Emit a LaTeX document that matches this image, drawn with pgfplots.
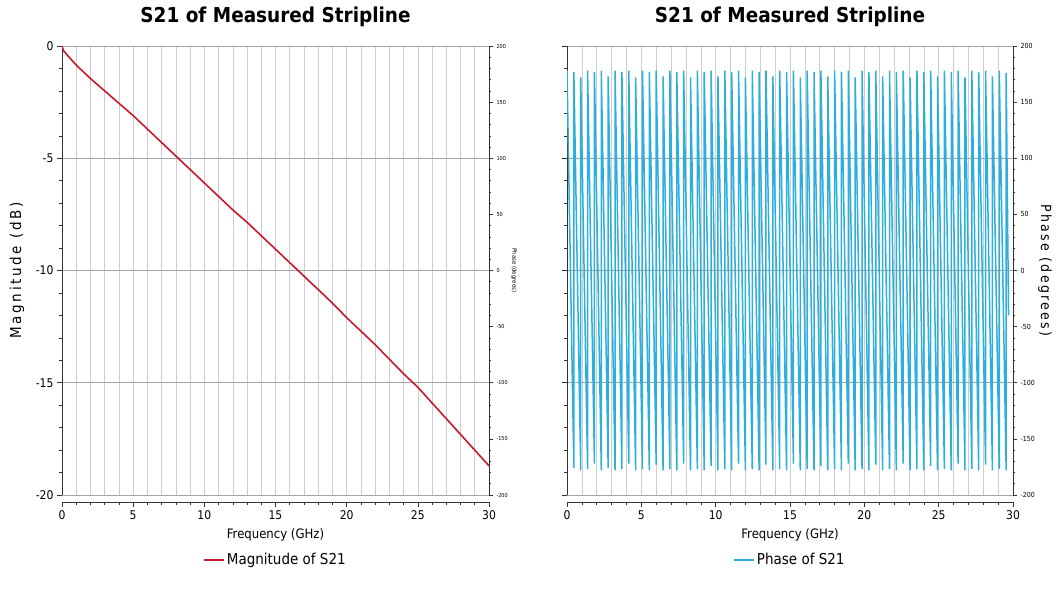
\documentclass[border=0pt]{standalone}
\usepackage{pgfplots}
\pgfplotsset{compat=1.18}
\usepackage{fontspec}
\setmainfont{DejaVu Sans Condensed}
\definecolor{magred}{RGB}{200,25,45}
\definecolor{phcyan}{RGB}{45,175,222}
\definecolor{gridgray}{RGB}{205,205,205}
\definecolor{hgrid}{RGB}{165,165,165}
\definecolor{axgray}{RGB}{50,50,50}
\pgfplotsset{
  base/.style={
    scale only axis, width=#1, height=449pt,
    xmin=0, xmax=30,
    /pgf/number format/assume math mode=true,
    tick align=outside,
    major tick length=5pt, minor tick length=3pt,
    every tick/.style={axgray, line width=0.6pt},
    axis line style={axgray, line width=0.8pt},
    tick label style={font=\fontsize{12}{14}\selectfont},
  },
  freqx/.style={
    axis x line*=bottom, axis x line shift=7pt,
    xtick={0,5,...,30}, minor xtick={1,...,29},
    xmajorgrids, xminorgrids,
    x grid style={gridgray, line width=0.6pt},
    y grid style={hgrid, line width=0.6pt},
    xlabel={Frequency (GHz)},
    xlabel style={font=\fontsize{13}{15}\selectfont, at={(axis description cs:0.5,0)}, anchor=center, yshift=-40pt},
    title style={font=\bfseries\fontsize{20.5}{22}\selectfont, at={(axis description cs:0.5,1)}, anchor=base, yshift=18pt},
  },
  leg/.style={
    legend style={at={(0.5,-0.1448)}, anchor=center, draw=none, fill=none, font=\fontsize{15}{17}\selectfont},
    legend image code/.code={\draw[##1] (0pt,0pt) -- (20pt,0pt);},
  },
}
\begin{document}
\begin{tikzpicture}[x=1pt,y=1pt]
\path[use as bounding box] (0,0) rectangle (1057,-590);

% ---------- Left: magnitude ----------
\begin{axis}[base=427pt, freqx, leg,
  at={(62pt,-495pt)}, anchor=south west,
  ymin=-20, ymax=0, axis y line*=left,
  ytick={0,-5,...,-20}, minor ytick={-1,-2,...,-19},
  ymajorgrids,
  title={S21 of Measured Stripline},
  ylabel={Magnitude (dB)},
  ylabel style={font=\fontsize{15}{17}\selectfont\addfontfeatures{LetterSpace=18}, at={(axis description cs:-0.1054,0.5)}, anchor=center},
]
\addplot[magred, line width=1.6pt] coordinates {
(0,0) (0.1,-0.2) (0.5,-0.5) (1,-0.85) (2,-1.45) (3,-2.0) (4,-2.55) (5,-3.1)
(6,-3.7) (7,-4.3) (8,-4.9) (9,-5.5) (10,-6.1) (11,-6.7) (12,-7.3) (13,-7.85)
(14,-8.45) (15,-9.05) (16,-9.65) (17,-10.25) (18,-10.85) (19,-11.45) (20,-12.1)
(21,-12.7) (22,-13.3) (23,-13.95) (24,-14.6) (25,-15.2) (26,-15.9) (27,-16.6)
(28,-17.3) (29,-18.0) (30,-18.7)
};
\addlegendentry{Magnitude of S21}
\end{axis}
\begin{axis}[base=427pt,
  at={(62pt,-495pt)}, anchor=south west,
  ymin=-200, ymax=200, axis y line*=right, axis x line=none,
  ytick={-200,-150,...,200}, minor ytick={-190,-180,...,190},
  major tick length=4pt, minor tick length=2pt,
  tick label style={font=\fontsize{5.5}{6}\selectfont},
  ylabel={Phase (degrees)},
  ylabel style={font=\fontsize{6}{7}\selectfont, at={(axis description cs:1.0585,0.5)}, anchor=center, rotate=180},
]
\end{axis}

% ---------- Right: phase ----------
\begin{axis}[base=446pt, freqx,
  at={(567pt,-495pt)}, anchor=south west,
  ymin=-20, ymax=0, axis y line*=left,
  ytick={0,-5,...,-20}, minor ytick={-1,-2,...,-19},
  yticklabels={},
  ymajorgrids,
  title={S21 of Measured Stripline},
]
\end{axis}
\begin{axis}[base=446pt, leg,
  at={(567pt,-495pt)}, anchor=south west,
  ymin=-200, ymax=200, axis y line*=right, axis x line=none,
  ytick={-200,-150,...,200}, minor ytick={-190,-180,...,190},
  major tick length=4pt, minor tick length=2pt,
  tick label style={font=\fontsize{7}{8}\selectfont},
  ylabel={Phase (degrees)},
  ylabel style={font=\fontsize{14}{16}\selectfont\addfontfeatures{LetterSpace=16}, at={(axis description cs:1.0717,0.5)}, anchor=center, rotate=180},
]
\addplot[phcyan, line width=1.5pt] coordinates {
(0,178) (0.4615,-176) (0.4615,177) (0.9231,-178) (0.9231,172) (1.3846,-177) (1.3846,178) (1.8462,-172)
(1.8462,177) (2.3077,-178) (2.3077,178) (2.7692,-176) (2.7692,173) (3.2308,-178) (3.2308,178) (3.6923,-177)
(3.6923,177) (4.1538,-172) (4.1538,178) (4.6154,-178) (4.6154,172) (5.0769,-177) (5.0769,178) (5.5385,-178)
(5.5385,177) (6.0,-173) (6.0,178) (6.4615,-178) (6.4615,173) (6.9231,-177) (6.9231,178) (7.3846,-178)
(7.3846,177) (7.8462,-172) (7.8462,178) (8.3077,-178) (8.3077,172) (8.7692,-177) (8.7692,178) (9.2308,-178)
(9.2308,177) (9.6923,-174) (9.6923,178) (10.1538,-178) (10.1538,173) (10.6154,-177) (10.6154,178) (11.0769,-178)
(11.0769,177) (11.5385,-172) (11.5385,178) (12.0,-178) (12.0,172) (12.4615,-177) (12.4615,178) (12.9231,-178)
(12.9231,177) (13.3846,-173) (13.3846,178) (13.8462,-178) (13.8462,173) (14.3077,-177) (14.3077,178) (14.7692,-178)
(14.7692,177) (15.2308,-172) (15.2308,178) (15.6923,-178) (15.6923,172) (16.1538,-177) (16.1538,178) (16.6154,-178)
(16.6154,177) (17.0769,-174) (17.0769,178) (17.5385,-178) (17.5385,173) (18.0,-177) (18.0,178) (18.4615,-178)
(18.4615,177) (18.9231,-172) (18.9231,178) (19.3846,-178) (19.3846,172) (19.8462,-177) (19.8462,178) (20.3077,-178)
(20.3077,177) (20.7692,-173) (20.7692,178) (21.2308,-178) (21.2308,173) (21.6923,-177) (21.6923,178) (22.1538,-178)
(22.1538,177) (22.6154,-172) (22.6154,178) (23.0769,-178) (23.0769,172) (23.5385,-177) (23.5385,178) (24.0,-178)
(24.0,177) (24.4615,-174) (24.4615,178) (24.9231,-178) (24.9231,173) (25.3846,-177) (25.3846,178) (25.8462,-178)
(25.8462,177) (26.3077,-172) (26.3077,178) (26.7692,-178) (26.7692,172) (27.2308,-177) (27.2308,178) (27.6923,-178)
(27.6923,177) (28.1538,-173) (28.1538,178) (28.6154,-178) (28.6154,173) (29.0769,-177) (29.0769,178) (29.5385,-178)
(29.5385,176) (29.7,-40)
};
\addlegendentry{Phase of S21}
\end{axis}
\end{tikzpicture}
\end{document}
